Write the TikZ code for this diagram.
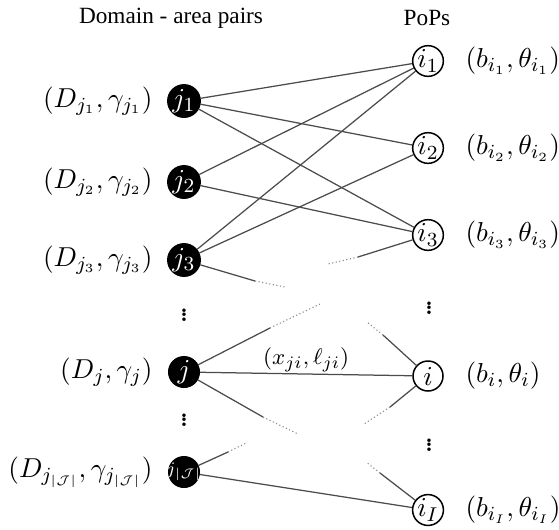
\documentclass[tikz,border=0pt]{standalone}
\usepackage[no-math]{fontspec}
\newfontfamily\headfont{Liberation Serif}
\newcommand{\smalldots}{\vbox{\baselineskip=1.8pt\lineskiplimit=-10pt\lineskip=0pt\hbox{\bfseries .}\hbox{\bfseries .}\hbox{\bfseries .}}}
\begin{document}
\begin{tikzpicture}[x=0.4pt,y=-0.4pt,
  font=\fontsize{11}{13}\selectfont,
  dom/.style={circle,fill=black,draw=black,minimum size=31*0.4pt,inner sep=0pt,text=white},
  pop/.style={circle,fill=white,draw=black,line width=0.6pt,minimum size=30*0.4pt,inner sep=0pt},
  link/.style={draw=black!70,line width=0.5pt},
  fade/.style={draw=black!45,line width=0.45pt,densely dotted},
  lbl/.style={inner sep=0pt},
  dts/.style={inner sep=0pt,font=\fontsize{9}{10}\selectfont},
  head/.style={font=\headfont\fontsize{9.3}{11}\selectfont}]
\useasboundingbox (0,0) rectangle (559,529);
% headings
\node[head] (hd) at (171,18) {Domain - area pairs};
\node[head] (hp) at (427,18) {PoPs};
% domain nodes
\node[dom] (j1) at (184,101) {$j_1$};
\node[dom] (j2) at (184,182) {$j_2$};
\node[dom] (j3) at (184,260) {$j_3$};
\node[dom] (j)  at (184,372) {$j$};
\node[dom,font=\fontsize{7}{7}\selectfont] (jJ) at (184,472) {\makebox[0pt]{$j_{|\mathcal{J}|}$}};
% pop nodes
\node[pop] (i1) at (428,61) {$i_1$};
\node[pop] (i2) at (428,148) {$i_2$};
\node[pop] (i3) at (428,235) {$i_3$};
\node[pop] (i)  at (428,376) {$i$};
\node[pop] (iI) at (428,510) {$i_I$};
% left labels
\node[lbl,anchor=east] (l1) at (153,101) {$(D_{j_1},\gamma_{j_1})$};
\node[lbl,anchor=east] (l2) at (153,182) {$(D_{j_2},\gamma_{j_2})$};
\node[lbl,anchor=east] (l3) at (153,260) {$(D_{j_3},\gamma_{j_3})$};
\node[lbl,anchor=east] (l)  at (153,372) {$(D_{j},\gamma_{j})$};
\node[lbl,anchor=east] (lJ) at (153,472) {$(D_{j_{|\mathcal{J}|}},\gamma_{j_{|\mathcal{J}|}})$};
% right labels
\node[lbl,anchor=west] (r1) at (465,61) {$(b_{i_1},\theta_{i_1})$};
\node[lbl,anchor=west] (r2) at (465,148) {$(b_{i_2},\theta_{i_2})$};
\node[lbl,anchor=west] (r3) at (465,235) {$(b_{i_3},\theta_{i_3})$};
\node[lbl,anchor=west] (r)  at (465,376) {$(b_{i},\theta_{i})$};
\node[lbl,anchor=west] (rI) at (465,510) {$(b_{i_I},\theta_{i_I})$};
% dots
\node[dts] (dl1) at (184,315) {\smalldots};
\node[dts] (dl2) at (184,420) {\smalldots};
\node[dts] (dr1) at (429,308) {\smalldots};
\node[dts] (dr2) at (429,445) {\smalldots};
% links
\draw[link] (j1) -- (i1);
\draw[link] (j1) -- (i2);
\draw[link] (j1) -- (i3);
\draw[link] (j2) -- (i1);
\draw[link] (j2) -- (i3);
\draw[link] (j3) -- (i1);
\draw[link] (j3) -- (i2);
\draw[link] (j) -- node[above=0.5pt,lbl,font=\fontsize{9.5}{11}\selectfont] (xl) {$(x_{ji},\ell_{ji})$} (i);
\draw[link] (jJ) -- (iI);
% fading stubs
\coordinate (a1) at (255,281); \coordinate (a2) at (285,287);
\draw[link] (j3) -- (a1); \draw[fade] (a1) -- (a2);
\coordinate (b1) at (358,257); \coordinate (b2) at (328,264);
\draw[link] (i3) -- (b1); \draw[fade] (b1) -- (b2);
\coordinate (c1) at (270,328); \coordinate (c2) at (320,304);
\draw[link] (j) -- (c1); \draw[fade] (c1) -- (c2);
\coordinate (d1) at (263,417); \coordinate (d2) at (298,434);
\draw[link] (j) -- (d1); \draw[fade] (d1) -- (d2);
\coordinate (e1) at (383,335); \coordinate (e2) at (367,322);
\draw[link] (i) -- (e1); \draw[fade] (e1) -- (e2);
\coordinate (f1) at (390,407); \coordinate (f2) at (364,424);
\draw[link] (i) -- (f1); \draw[fade] (f1) -- (f2);
\coordinate (g1) at (228,452); \coordinate (g2) at (246,443);
\draw[link] (jJ) -- (g1); \draw[fade] (g1) -- (g2);
\coordinate (h1) at (380,473); \coordinate (h2) at (366,462);
\draw[link] (iI) -- (h1); \draw[fade] (h1) -- (h2);
\end{tikzpicture}
\end{document}
